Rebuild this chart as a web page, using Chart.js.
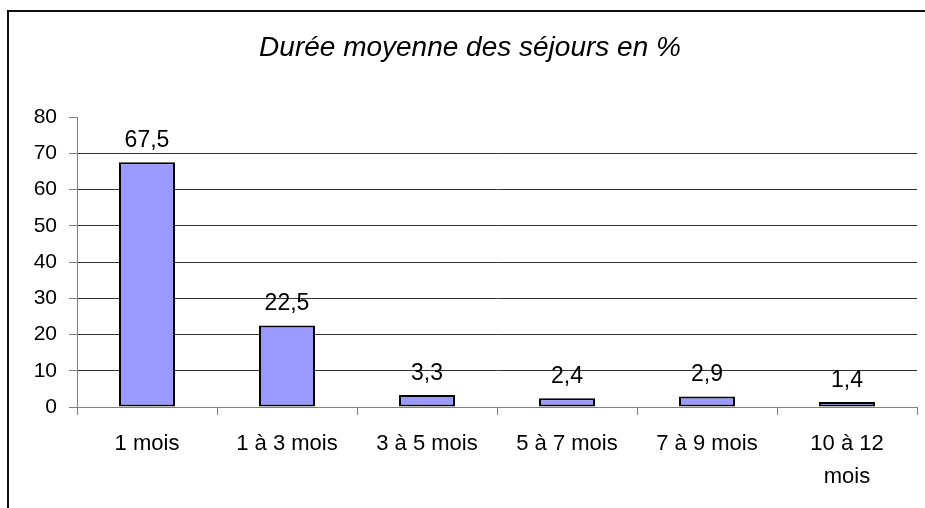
<!DOCTYPE html>
<html lang="fr">
<head>
<meta charset="utf-8">
<title>Durée moyenne des séjours en %</title>
<script src="https://cdn.jsdelivr.net/npm/chart.js@4.4.1/dist/chart.umd.min.js"></script>
<style>
    html, body { margin: 0; padding: 0; background: #fff; }
    #wrap { width: 925px; height: 508px; position: relative; }
</style>
</head>
<body>
<div id="wrap"><canvas id="chart" width="925" height="508"></canvas></div>
<script>
// données
const categories = ['1 mois', '1 à 3 mois', '3 à 5 mois', '5 à 7 mois', '7 à 9 mois', ['10 à 12', 'mois']];
const durees = [67.5, 22.5, 3.3, 2.4, 2.9, 1.4];
const titre = 'Durée moyenne des séjours en %';

const AXE_GRIS = '#808080';
const POLICE = '"Liberation Sans", Arial, sans-serif';

// cadre du graphique (bord gauche et haut seulement visibles) + titre
const cadrePlugin = {
    id: 'cadre',
    beforeDraw(chart) {
        const ctx = chart.ctx;
        ctx.save();
        ctx.fillStyle = '#111';
        ctx.fillRect(7, 10, 2, 498);
        ctx.fillRect(7, 10, 918, 2);
        // titre centré sur le cadre, comme dans l'original
        ctx.font = 'italic 28px ' + POLICE;
        ctx.fillStyle = '#000';
        ctx.textAlign = 'center';
        ctx.textBaseline = 'alphabetic';
        ctx.fillText(titre, 470, 56);
        ctx.restore();
    }
};

// étiquettes de valeurs au-dessus des barres
const etiquettesPlugin = {
    id: 'etiquettes',
    afterDatasetsDraw(chart) {
        const ctx = chart.ctx;
        const meta = chart.getDatasetMeta(0);
        ctx.save();
        ctx.font = '23px ' + POLICE;
        ctx.fillStyle = '#000';
        ctx.textAlign = 'center';
        ctx.textBaseline = 'alphabetic';
        meta.data.forEach((bar, i) => {
            const txt = String(durees[i]).replace('.', ',');
            ctx.fillText(txt, bar.x, bar.y - 15);
        });
        ctx.restore();
    }
};

new Chart(document.getElementById('chart'), {
    type: 'bar',
    data: {
        labels: categories,
        datasets: [{
            data: durees,
            backgroundColor: '#9999FF',
            borderColor: '#000',
            borderWidth: 2,
            borderSkipped: false,
            categoryPercentage: 1,
            barPercentage: 0.4
        }]
    },
    options: {
        responsive: false,
        animation: false,
        layout: { padding: { left: 0, right: 8, top: 117, bottom: 0 } },
        plugins: {
            legend: { display: false },
            tooltip: { enabled: false },
            title: { display: false }
        },
        scales: {
            x: {
                offset: true,
                grid: {
                    display: true,
                    offset: true,
                    drawOnChartArea: false,
                    drawTicks: true,
                    tickLength: 8,
                    tickColor: AXE_GRIS
                },
                border: { display: true, color: AXE_GRIS, width: 1 },
                ticks: {
                    color: '#000',
                    padding: 12,
                    maxRotation: 0,
                    autoSkip: false,
                    font: { family: POLICE, size: 22, lineHeight: 1.5 }
                },
                afterFit(scale) { scale.height = 101; }
            },
            y: {
                min: 0,
                max: 80,
                ticks: {
                    stepSize: 10,
                    color: '#000',
                    padding: 12,
                    font: { family: POLICE, size: 21 }
                },
                grid: {
                    drawTicks: true,
                    tickLength: 8,
                    tickColor: AXE_GRIS,
                    color: (c) => {
                        if (!c.tick) return '#333';
                        if (c.tick.value === 80) return 'rgba(0,0,0,0)';
                        if (c.tick.value === 0) return AXE_GRIS;
                        return '#333';
                    }
                },
                border: { display: true, color: AXE_GRIS, width: 1 },
                afterFit(scale) { scale.width = 77; }
            }
        }
    },
    plugins: [cadrePlugin, etiquettesPlugin]
});
</script>
</body>
</html>
